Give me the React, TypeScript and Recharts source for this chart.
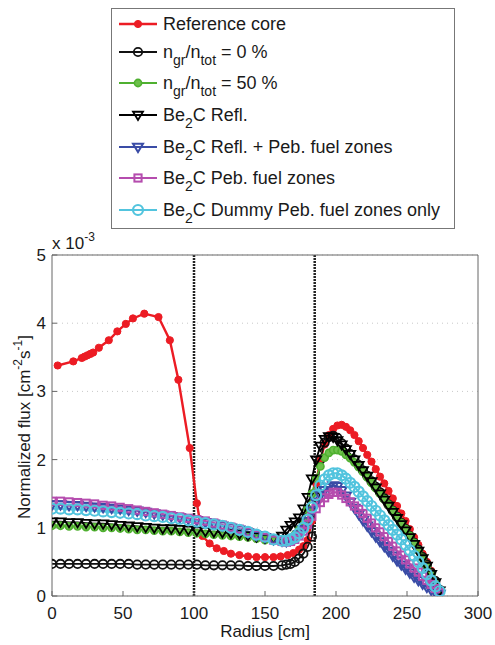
import React from "react";
import { LineChart, Line, XAxis, YAxis, CartesianGrid, ReferenceLine } from "recharts";

// ── Normalized radial flux profile, MATLAB-style ─────────────────────
// Values are in units of 1e-3 (the axis carries the "x 10^-3" tag).

const W = 495;
const H = 645;
const FONT = '"Liberation Sans", Arial, Helvetica, sans-serif';

const X_TICKS = [0, 50, 100, 150, 200, 250, 300];
const Y_TICKS = [0, 1, 2, 3, 4, 5];
const ZONE_BOUNDS = [100, 185];

// shared radial mesh for the six variant cases
const RADIUS = [
  0, 6, 12, 18, 24, 30, 36, 42, 48, 54, 60, 66, 72, 78, 84, 90, 96, 102, 108, 114, 120, 126, 132, 138, 144, 150, 156, 162,
  165, 168, 171, 174, 177, 180, 183, 186, 189, 192, 195, 198, 201, 204, 207, 210, 213, 216, 219, 222, 225, 228, 231, 234,
  237, 240, 243, 246, 249, 252, 255, 258, 261, 264, 267, 270, 273,
];

const FLUX_0PCT = [
  0.47, 0.47, 0.47, 0.47, 0.47, 0.47, 0.47, 0.47, 0.47, 0.47, 0.46, 0.46, 0.46, 0.46, 0.46, 0.46, 0.46, 0.46, 0.45, 0.45,
  0.45, 0.45, 0.45, 0.44, 0.44, 0.44, 0.44, 0.45,
  0.46, 0.47, 0.5, 0.55, 0.62, 0.72, 0.87, 1.45, 2.0, 2.25, 2.33, 2.35, 2.32, 2.24, 2.16, 2.08, 2.0, 1.92, 1.84, 1.76,
  1.68, 1.6, 1.52, 1.43, 1.34, 1.25, 1.16, 1.07, 0.98, 0.88, 0.78, 0.68, 0.57, 0.46, 0.34, 0.22, 0.09,
];

const FLUX_50PCT = [
  1.03, 1.03, 1.02, 1.02, 1.01, 1.01, 1.0, 1.0, 0.99, 0.98, 0.97, 0.97, 0.96, 0.95, 0.95, 0.94, 0.93, 0.92, 0.91, 0.9,
  0.89, 0.88, 0.87, 0.86, 0.84, 0.82, 0.81, 0.8,
  0.81, 0.84, 0.9, 0.98, 1.1, 1.28, 1.5, 1.72, 1.9, 2.03, 2.1, 2.14, 2.14, 2.12, 2.07, 2.02, 1.96, 1.89, 1.82, 1.74,
  1.66, 1.58, 1.5, 1.42, 1.34, 1.25, 1.16, 1.07, 0.98, 0.88, 0.78, 0.67, 0.56, 0.44, 0.32, 0.2, 0.08,
];

const FLUX_REFL = [
  1.09, 1.09, 1.08, 1.08, 1.07, 1.06, 1.06, 1.05, 1.04, 1.03, 1.02, 1.01, 1.0, 0.99, 0.99, 0.98, 0.97, 0.96, 0.95, 0.94,
  0.93, 0.92, 0.91, 0.89, 0.87, 0.85, 0.84, 0.88,
  0.97, 1.04, 1.09, 1.15, 1.28, 1.45, 1.72, 2.0, 2.2, 2.3, 2.34, 2.33, 2.28, 2.22, 2.15, 2.08, 2.0, 1.92, 1.84, 1.76,
  1.68, 1.59, 1.5, 1.41, 1.32, 1.23, 1.14, 1.05, 0.96, 0.86, 0.76, 0.66, 0.55, 0.44, 0.32, 0.2, 0.08,
];

const FLUX_REFL_PEB = [
  1.34, 1.34, 1.33, 1.33, 1.32, 1.31, 1.3, 1.29, 1.28, 1.26, 1.25, 1.23, 1.21, 1.19, 1.17, 1.15, 1.13, 1.11, 1.08, 1.06,
  1.03, 1.0, 0.97, 0.93, 0.89, 0.86, 0.83, 0.81,
  0.8, 0.82, 0.85, 0.9, 0.98, 1.1, 1.25, 1.38, 1.48, 1.55, 1.6, 1.62, 1.61, 1.55, 1.47, 1.38, 1.29, 1.2, 1.11, 1.03,
  0.95, 0.87, 0.8, 0.73, 0.66, 0.59, 0.52, 0.46, 0.4, 0.34, 0.28, 0.23, 0.18, 0.13, 0.09, 0.05, 0.03,
];

const FLUX_PEB = [
  1.39, 1.39, 1.38, 1.37, 1.36, 1.35, 1.33, 1.32, 1.3, 1.28, 1.26, 1.24, 1.22, 1.2, 1.18, 1.16, 1.14, 1.12, 1.1, 1.07,
  1.04, 1.01, 0.98, 0.94, 0.9, 0.86, 0.82, 0.8,
  0.79, 0.8, 0.83, 0.88, 0.95, 1.05, 1.17, 1.28, 1.37, 1.44, 1.49, 1.52, 1.52, 1.48, 1.43, 1.38, 1.32, 1.27, 1.21, 1.14,
  1.07, 1.0, 0.94, 0.87, 0.8, 0.73, 0.66, 0.6, 0.53, 0.47, 0.41, 0.35, 0.29, 0.23, 0.17, 0.11, 0.05,
];

const FLUX_DUMMY = [
  1.28, 1.28, 1.27, 1.27, 1.26, 1.25, 1.24, 1.23, 1.22, 1.21, 1.2, 1.18, 1.17, 1.16, 1.14, 1.13, 1.11, 1.09, 1.07, 1.05,
  1.03, 1.0, 0.97, 0.94, 0.9, 0.87, 0.83, 0.81,
  0.81, 0.83, 0.86, 0.92, 1.0, 1.12, 1.3, 1.48, 1.62, 1.71, 1.77, 1.8, 1.8, 1.77, 1.72, 1.66, 1.6, 1.53, 1.46, 1.39,
  1.32, 1.25, 1.18, 1.11, 1.04, 0.97, 0.9, 0.83, 0.75, 0.67, 0.59, 0.5, 0.41, 0.32, 0.23, 0.14, 0.07,
];

// reference core has its own (irregular) mesh
const RADIUS_REF = [
  4, 15, 21, 23, 25, 27, 29, 33, 40, 46, 52, 57, 65, 75, 83, 89, 97, 102, 106, 111, 116, 121, 126, 132, 138, 144, 150,
  156, 161, 166, 170, 174, 177, 180, 183, 186, 189, 192, 195, 198, 201, 204, 207, 210, 213, 216, 219, 222, 225, 228, 231,
  234, 237, 240, 243, 246, 249, 252, 255, 258, 261, 264, 267, 270, 273,
];

const FLUX_REF = [
  3.38, 3.44, 3.49, 3.51, 3.53, 3.55, 3.57, 3.64, 3.75, 3.88, 3.99, 4.07, 4.14, 4.09, 3.75, 3.17, 2.17, 1.36, 0.88, 0.77,
  0.7, 0.66, 0.62, 0.6, 0.58, 0.57, 0.57, 0.57, 0.58, 0.6, 0.63, 0.68, 0.73, 0.82, 1.1, 1.65, 2.0, 2.22, 2.36, 2.45, 2.5,
  2.51, 2.48, 2.43, 2.36, 2.27, 2.17, 2.07, 1.97, 1.86, 1.75, 1.65, 1.54, 1.43, 1.32, 1.21, 1.1, 0.98, 0.86, 0.75, 0.62,
  0.5, 0.37, 0.23, 0.1,
];

// ── Series styling ──────────────────────────────────────────────────

type Shape = "dot" | "circle" | "triDown" | "square";

type SeriesDef = {
  key: string;
  color: string;
  shape: Shape;
  size: number;
  fill: string;
  width: number;
  markerWidth: number;
};

const SERIES: SeriesDef[] = [
  { key: "ref", color: "#ec1c24", shape: "dot", size: 3.6, fill: "#ec1c24", width: 2.4, markerWidth: 1 },
  { key: "p0", color: "#111111", shape: "circle", size: 4.2, fill: "none", width: 1.8, markerWidth: 1.8 },
  { key: "p50", color: "#4fb030", shape: "circle", size: 3.6, fill: "#6cc04a", width: 2, markerWidth: 1.6 },
  { key: "refl", color: "#000000", shape: "triDown", size: 5, fill: "none", width: 1.8, markerWidth: 1.8 },
  { key: "reflPeb", color: "#3a4ca6", shape: "triDown", size: 5, fill: "none", width: 2.2, markerWidth: 2 },
  { key: "peb", color: "#b54cae", shape: "square", size: 3.6, fill: "none", width: 2.2, markerWidth: 2 },
  { key: "dummy", color: "#52c4de", shape: "circle", size: 5, fill: "none", width: 2.2, markerWidth: 2.2 },
];

// zip everything onto one x-sorted table, null where a series has no point
type Row = { r: number; [k: string]: number | null };

const byRadius = new Map<number, Row>();
function put(rs: number[], vs: number[], key: string) {
  rs.forEach((r, i) => {
    const row = byRadius.get(r) ?? ({ r } as Row);
    row[key] = vs[i];
    byRadius.set(r, row);
  });
}
put(RADIUS_REF, FLUX_REF, "ref");
put(RADIUS, FLUX_0PCT, "p0");
put(RADIUS, FLUX_50PCT, "p50");
put(RADIUS, FLUX_REFL, "refl");
put(RADIUS, FLUX_REFL_PEB, "reflPeb");
put(RADIUS, FLUX_PEB, "peb");
put(RADIUS, FLUX_DUMMY, "dummy");
const chartData = [...byRadius.values()].sort((a, b) => a.r - b.r);

// ── Markers ─────────────────────────────────────────────────────────

function Marker({ s, cx, cy }: { s: SeriesDef; cx: number; cy: number }) {
  const k = s.size;
  if (s.shape === "dot" || s.shape === "circle")
    return <circle cx={cx} cy={cy} r={k} fill={s.fill} stroke={s.color} strokeWidth={s.markerWidth} />;
  if (s.shape === "square")
    return (
      <rect x={cx - k} y={cy - k} width={2 * k} height={2 * k} fill={s.fill} stroke={s.color} strokeWidth={s.markerWidth} />
    );
  const pts = `${cx - k},${cy - k * 0.65} ${cx + k},${cy - k * 0.65} ${cx},${cy + k}`;
  return <polygon points={pts} fill={s.fill} stroke={s.color} strokeWidth={s.markerWidth} strokeLinejoin="miter" />;
}

function dotFor(s: SeriesDef) {
  return (p: any) => {
    const key = `${s.key}-${p.index}`;
    if (typeof p.cx !== "number" || typeof p.cy !== "number" || p.payload?.[s.key] == null) return <g key={key} />;
    return (
      <g key={key}>
        <Marker s={s} cx={p.cx} cy={p.cy} />
      </g>
    );
  };
}

// ── Legend (MATLAB box, top) ────────────────────────────────────────

function be2c(rest: string) {
  return (
    <>
      <tspan>Be</tspan>
      <tspan dy={7} fontSize={14}>2</tspan>
      <tspan dy={-7}>{"C" + rest}</tspan>
    </>
  );
}

function ratio(pct: string) {
  return (
    <>
      <tspan>n</tspan>
      <tspan dy={7} fontSize={14}>gr</tspan>
      <tspan dy={-7}>/n</tspan>
      <tspan dy={7} fontSize={14}>tot</tspan>
      <tspan dy={-7}>{` = ${pct} %`}</tspan>
    </>
  );
}

const LEGEND_ROWS: { key: string; label: React.ReactNode }[] = [
  { key: "ref", label: <tspan>Reference core</tspan> },
  { key: "p0", label: ratio("0") },
  { key: "p50", label: ratio("50") },
  { key: "refl", label: be2c(" Refl.") },
  { key: "reflPeb", label: be2c(" Refl. + Peb. fuel zones") },
  { key: "peb", label: be2c(" Peb. fuel zones") },
  { key: "dummy", label: be2c(" Dummy Peb. fuel zones only") },
];

function LegendBox() {
  const rowY = [16, 44, 75, 107, 139, 170, 202];
  return (
    <g transform="translate(111, 8)">
      <rect x={0.5} y={0.5} width={343} height={220} fill="#fff" stroke="#777" strokeWidth={1} />
      {LEGEND_ROWS.map((row, i) => {
        const s = SERIES.find((d) => d.key === row.key)!;
        const y = rowY[i];
        return (
          <g key={row.key}>
            <line x1={8} x2={46} y1={y} y2={y} stroke={s.color} strokeWidth={s.width} />
            <Marker s={s} cx={27} cy={y} />
            <text x={52} y={y + 6} fontSize={18} fill="#1a1a1a" fontFamily={FONT}>
              {row.label}
            </text>
          </g>
        );
      })}
    </g>
  );
}

// ── Chart ───────────────────────────────────────────────────────────

const tickStyle = { fill: "#1a1a1a", fontSize: 17, fontFamily: FONT } as const;
const AXIS = "#666";

export default function App() {
  return (
    <div style={{ position: "absolute", left: 0, top: 0, width: W, height: H, background: "#fff" }}>
      <LineChart width={W} height={H} data={chartData} margin={{ top: 254, right: 16, left: 12, bottom: 19 }}>
        <CartesianGrid vertical={false} stroke="#c9c9c9" strokeDasharray="1 4" />

        <XAxis
          dataKey="r"
          type="number"
          domain={[0, 300]}
          ticks={X_TICKS}
          interval={0}
          height={30}
          tickSize={-5}
          tickMargin={16}
          stroke={AXIS}
          tickLine={{ stroke: AXIS }}
          tick={tickStyle}
          allowDataOverflow
        />
        <XAxis
          xAxisId="top"
          orientation="top"
          dataKey="r"
          type="number"
          domain={[0, 300]}
          ticks={X_TICKS}
          interval={0}
          height={1}
          tickSize={-5}
          stroke={AXIS}
          tickLine={{ stroke: AXIS }}
          tick={false}
          allowDataOverflow
        />
        <YAxis
          type="number"
          domain={[0, 5]}
          ticks={Y_TICKS}
          interval={0}
          width={40}
          tickSize={-5}
          tickMargin={11}
          stroke={AXIS}
          tickLine={{ stroke: AXIS }}
          tick={tickStyle}
          allowDataOverflow
        />
        <YAxis
          yAxisId="right"
          orientation="right"
          type="number"
          domain={[0, 5]}
          ticks={Y_TICKS}
          interval={0}
          width={1}
          tickSize={-5}
          stroke={AXIS}
          tickLine={{ stroke: AXIS }}
          tick={false}
          allowDataOverflow
        />

        {ZONE_BOUNDS.map((x) => (
          <ReferenceLine key={x} x={x} stroke="#222" strokeWidth={2.5} strokeDasharray="2 1" />
        ))}

        {SERIES.map((s) => (
          <Line
            key={s.key}
            type="linear"
            dataKey={s.key}
            stroke={s.color}
            strokeWidth={s.width}
            dot={dotFor(s)}
            activeDot={false}
            connectNulls
            isAnimationActive={false}
          />
        ))}
      </LineChart>

      {/* labels + legend drawn over the chart */}
      <svg
        width={W}
        height={H}
        style={{ position: "absolute", left: 0, top: 0, pointerEvents: "none" }}
        fontFamily={FONT}
      >
        <text x={52} y={249} fontSize={17} fill="#1a1a1a">
          <tspan>x 10</tspan>
          <tspan dy={-8} fontSize={12}>-3</tspan>
        </text>
        <text x={265} y={637} fontSize={17} fill="#1a1a1a" textAnchor="middle">
          Radius [cm]
        </text>
        <text transform="translate(30, 427) rotate(-90)" fontSize={17} fill="#1a1a1a" textAnchor="middle">
          <tspan>Normalized flux [cm</tspan>
          <tspan dy={-8} fontSize={12}>-2</tspan>
          <tspan dy={8}>s</tspan>
          <tspan dy={-8} fontSize={12}>-1</tspan>
          <tspan dy={8}>]</tspan>
        </text>
        <LegendBox />
      </svg>
    </div>
  );
}
